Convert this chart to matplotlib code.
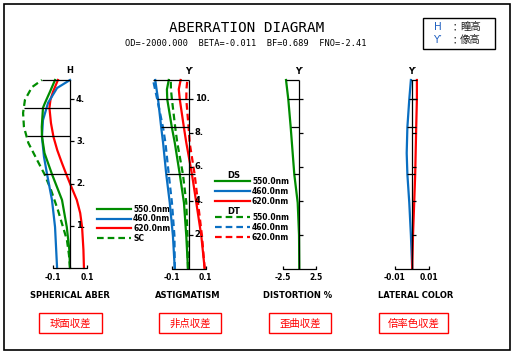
import numpy as np
import matplotlib.pyplot as plt
from matplotlib.patches import Rectangle

W, H = 514, 354
GREEN = '#008c00'
BLUE = '#0a6fc2'
RED = '#ff0000'
CJK = ['Noto Sans CJK JP', 'DejaVu Sans']

# --- spherical aberration (pupil height H) ---
sa_blue_h = [0, 0.97, 1.61, 2.22, 2.63, 3.10, 3.50, 3.91, 4.26, 4.45]
sa_blue = [-0.076, -0.088, -0.106, -0.135, -0.153, -0.165, -0.159, -0.129, -0.076, 0.0]
sa_green_h = [0, 0.43, 0.97, 1.61, 2.22, 2.72, 3.12, 3.34, 3.79, 3.91, 4.17, 4.45]
sa_green = [0, -0.004, -0.019, -0.047, -0.106, -0.150, -0.165, -0.166, -0.159, -0.147, -0.118, -0.088]
sa_red_h = [0, 0.43, 0.97, 1.30, 1.61, 1.96, 2.22, 2.49, 2.79, 3.10, 3.43, 3.79, 3.98, 4.17, 4.45]
sa_red = [0.082, 0.079, 0.071, 0.060, 0.040, 0.004, -0.022, -0.048, -0.075, -0.097, -0.112, -0.121, -0.115, -0.100, -0.071]
sa_sc_h = [0, 0.31, 0.66, 1.37, 1.85, 2.22, 2.56, 2.96, 3.34, 3.67, 3.98, 4.28, 4.45]
sa_sc = [0, -0.006, -0.018, -0.071, -0.112, -0.150, -0.194, -0.245, -0.271, -0.276, -0.265, -0.224, -0.165]
sa_hmax = 4.45
sa_ticks = [1, 2, 3, 4]
sa_fracs = [1.0, 0.85, 0.70, 0.5]

# --- astigmatism (image height Y') ---
ast_y = [0, 1.92, 3.88, 5.55, 7.41, 8.29, 9.96, 10.55, 11.1]
ast_ds_blue = [-0.084, -0.095, -0.114, -0.135, -0.154, -0.165, -0.184, -0.193, -0.201]
ast_dt_blue = [-0.084, -0.086, -0.101, -0.120, -0.140, -0.154, -0.189, -0.202, -0.214]
ast_ds_green = [-0.005, -0.015, -0.029, -0.054, -0.084, -0.101, -0.129, -0.131, -0.120]
ast_dt_green = [-0.005, -0.008, -0.015, -0.035, -0.069, -0.081, -0.101, -0.107, -0.108]
ast_ds_red = [0.095, 0.075, 0.045, 0.019, -0.015, -0.029, -0.054, -0.060, -0.049]
ast_dt_red = [0.095, 0.079, 0.055, 0.035, 0.005, -0.001, -0.015, -0.014, -0.009]
ymax = 11.1
y_ticks = [2, 4, 6, 8, 10]
y_fracs = [1.0, 0.9, 0.75, 0.5]

# --- distortion % ---
dist_y = [0, 1.98, 3.88, 5.55, 8.32, 9.96, 11.1]
dist = [0, -0.04, -0.24, -0.75, -1.29, -1.65, -1.99]

# --- lateral color ---
lat_blue_y = [0, 1.98, 3.88, 5.55, 6.8, 8.32, 9.96, 11.1]
lat_blue = [0, -0.00076, -0.0017, -0.0028, -0.0032, -0.0028, -0.0017, -0.00076]
lat_red_y = [0, 1.98, 3.88, 5.55, 8.32, 9.96, 11.1]
lat_red = [0, 0.00047, 0.00116, 0.00174, 0.00233, 0.00273, 0.00273]

fig = plt.figure(figsize=(W / 100, H / 100), dpi=100)
base = fig.add_axes([0, 0, 1, 1])
base.set_xlim(0, W)
base.set_ylim(H, 0)
base.axis('off')


def panel(x0, xs, y0, ys):
    # full-figure axes whose data origin sits at pixel (x0, y0)
    ax = fig.add_axes([0, 0, 1, 1])
    ax.set_xlim(-x0 / xs, (W - x0) / xs)
    ax.set_ylim(-(H - y0) / ys, y0 / ys)
    ax.axis('off')
    ax.patch.set_alpha(0)
    ax.px = (xs, ys)
    return ax


def frame(ax, top, ticks, curves, fracs, ylabel, xlim, xlabels, ticklabels):
    xs, ys = ax.px
    kw = dict(color='black', lw=0.9, solid_capstyle='butt')
    ax.plot([0, 0], [0, top], **kw)
    for t in ticks:
        ax.plot([0, 4 / xs], [t, t], **kw)
        if ticklabels:
            ax.text(6 / xs, t, f'{t}.', fontsize=6, fontweight='bold', va='center', ha='left')
    # pupil / field zone lines spanning the curves
    for f in fracs:
        yy = f * top
        vals = [np.interp(yy, cy, cx) for cy, cx in curves] + [0]
        ax.plot([min(vals), max(vals)], [yy, yy], **kw)
    ax.plot([-xlim, -xlim, xlim, xlim], [3 / ys, 0, 0, 3 / ys], **kw)
    for v, s in zip([-xlim, xlim], xlabels):
        ax.text(v, -9 / ys, s, fontsize=5.5, fontweight='bold', ha='center', va='center')
    ax.text(0, top + 9 / ys, ylabel, fontsize=6, fontweight='bold', ha='center', va='center')


lw = 1.6
dash = (3, 1.8)

# spherical aberration
ax1 = panel(70, 170, 268, 42.25)
ax1.plot(sa_sc, sa_sc_h, color=GREEN, lw=lw, dashes=dash)
ax1.plot(sa_red, sa_red_h, color=RED, lw=lw)
ax1.plot(sa_blue, sa_blue_h, color=BLUE, lw=lw)
ax1.plot(sa_green, sa_green_h, color=GREEN, lw=lw)
frame(ax1, sa_hmax, sa_ticks,
      [(sa_blue_h, sa_blue), (sa_green_h, sa_green), (sa_red_h, sa_red), (sa_sc_h, sa_sc)],
      sa_fracs, 'H', 0.1, ['-0.1', '0.1'], True)

# astigmatism
ax2 = panel(188.8, 167, 268.7, 17.0)
ax2.plot(ast_dt_blue, ast_y, color=BLUE, lw=lw, dashes=dash)
ax2.plot(ast_dt_green, ast_y, color=GREEN, lw=lw, dashes=dash)
ax2.plot(ast_dt_red, ast_y, color=RED, lw=lw, dashes=dash)
ax2.plot(ast_ds_blue, ast_y, color=BLUE, lw=lw)
ax2.plot(ast_ds_green, ast_y, color=GREEN, lw=lw)
ax2.plot(ast_ds_red, ast_y, color=RED, lw=lw)
frame(ax2, ymax, y_ticks,
      [(ast_y, c) for c in (ast_ds_blue, ast_dt_blue, ast_ds_green, ast_dt_green, ast_ds_red, ast_dt_red)],
      y_fracs, 'Y′', 0.1, ['-0.1', '0.1'], True)

# distortion
ax3 = panel(299.3, 6.67, 268.7, 17.0)
ax3.plot(dist, dist_y, color=GREEN, lw=lw)
frame(ax3, ymax, y_ticks, [(dist_y, dist)], y_fracs, 'Y′', 2.5, ['-2.5', '2.5'], False)

# lateral color
ax4 = panel(412.2, 1720, 268.7, 17.0)
ax4.plot(lat_blue, lat_blue_y, color=BLUE, lw=lw)
ax4.plot(lat_red, lat_red_y, color=RED, lw=lw)
frame(ax4, ymax, y_ticks, [(lat_blue_y, lat_blue), (lat_red_y, lat_red)],
      y_fracs, 'Y′', 0.01, ['-0.01', '0.01'], False)

# legends
tkw = dict(fontsize=5.5, fontweight='bold', va='center', ha='left')
sa_leg = [('550.0nm', GREEN, None), ('460.0nm', BLUE, None), ('620.0nm', RED, None), ('SC', GREEN, dash)]
for i, (lab, c, d) in enumerate(sa_leg):
    y = 209 + i * 9.7
    if d:
        base.plot([97, 131], [y, y], color=c, lw=lw, dashes=d)
    else:
        base.plot([97, 131], [y, y], color=c, lw=lw)
    base.text(133, y, lab, **tkw)

base.text(234, 175, 'DS', fontsize=6, fontweight='bold', ha='center', va='center')
base.text(234, 212, 'DT', fontsize=6, fontweight='bold', ha='center', va='center')
wl = [('550.0nm', GREEN), ('460.0nm', BLUE), ('620.0nm', RED)]
for i, (lab, c) in enumerate(wl):
    y = 181 + i * 10
    base.plot([215, 250], [y, y], color=c, lw=lw)
    base.text(252, y, lab, **tkw)
    y = 217 + i * 10
    base.plot([215, 250], [y, y], color=c, lw=lw, dashes=dash)
    base.text(252, y, lab, **tkw)

# titles
base.text(247, 28, 'ABERRATION DIAGRAM', fontsize=10.3, family='DejaVu Sans Mono',
          ha='center', va='center')
base.text(246, 43, 'OD=-2000.000  BETA=-0.011  BF=0.689  FNO=-2.41', fontsize=6.2,
          family='DejaVu Sans Mono', ha='center', va='center')

# key box
base.add_patch(Rectangle((423, 18), 72, 31, fill=False, ec='black', lw=1))
base.text(434, 27, 'H', fontsize=7.5, color='#2060c0', va='center', ha='left')
base.text(433, 40, 'Y′', fontsize=7.5, color='#2060c0', va='center', ha='left')
for y, s in [(27, '瞳高'), (40, '像高')]:
    base.text(455, y, '：', fontsize=7.5, family=CJK, color='#222222', va='center', ha='center')
    base.text(460, y, s, fontsize=7.5, family=CJK, color='#222222', va='center', ha='left')

# panel names
names = ['SPHERICAL ABER', 'ASTIGMATISM', 'DISTORTION %', 'LATERAL COLOR']
name_x = [70, 188, 297.5, 415.5]
jp_names = ['球面収差', '非点収差', '歪曲収差', '倍率色収差']
jp_boxes = [(39, 102), (159, 221), (269, 331), (379, 448)]
for s, x in zip(names, name_x):
    base.text(x, 296, s, fontsize=6, fontweight='bold', ha='center', va='center')
for s, (x0, x1) in zip(jp_names, jp_boxes):
    base.add_patch(Rectangle((x0, 313), x1 - x0, 20, fill=False, ec=RED, lw=1))
    base.text((x0 + x1) / 2, 323.5, s, fontsize=7.5, family=CJK, color=RED, ha='center', va='center')

# outer border
base.add_patch(Rectangle((3.5, 4), 506.5, 346, fill=False, ec='black', lw=1.2))

fig.savefig('out.png', dpi=100)
